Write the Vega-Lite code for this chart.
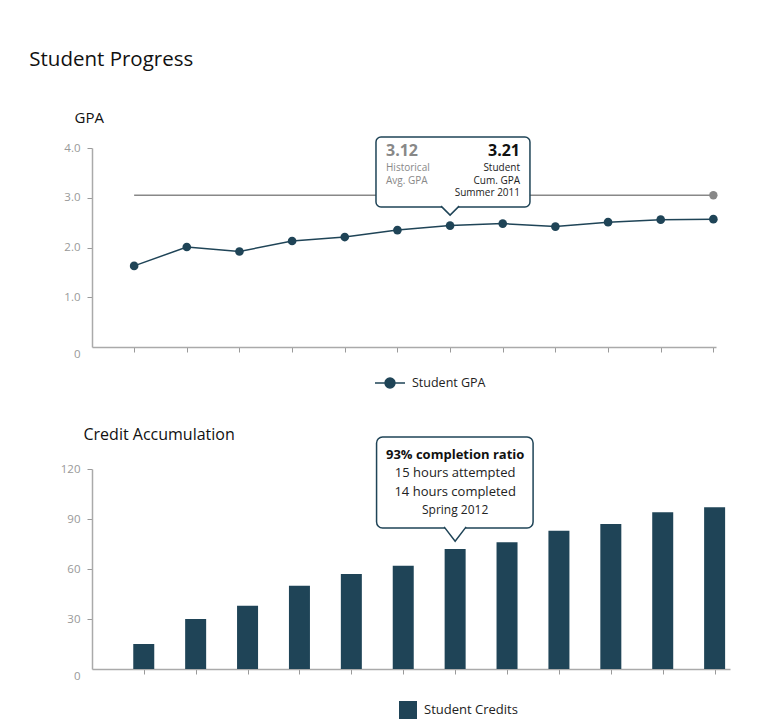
{
  "$schema": "https://vega.github.io/schema/vega-lite/v6.json",
  "padding": {"left": 29, "top": 49, "right": 10, "bottom": 0},
  "background": "white",
  "title": {"text": "Student Progress", "anchor": "start", "fontSize": 20.5, "font": "Open Sans", "fontWeight": "normal", "color": "#111111", "dx": -31, "offset": 40},
  "config": {
    "font": "Open Sans",
    "view": {"stroke": null},
    "axis": {"grid": false, "domainColor": "#aaaaaa", "domainWidth": 1.5, "tickColor": "#9a9a9a", "tickWidth": 1, "tickSize": 5, "labelColor": "#999999", "labelFontSize": 11.5, "labelPadding": 7, "labelFont": "Open Sans"},
    "legend": {"labelFontSize": 12.5, "labelColor": "#222222", "labelFont": "Open Sans", "padding": 0}
  },
  "resolve": {"scale": {"x": "independent", "y": "independent", "color": "independent"}, "legend": {"color": "independent"}},
  "spacing": 35,
  "vconcat": [
    {
      "width": 624,
      "height": 199,
      "layer": [
        {
          "data": {"values": [{"t": 1, "hist": 3.05}, {"t": 12, "hist": 3.05}]},
          "mark": {"type": "line", "color": "#888888", "strokeWidth": 1.5},
          "encoding": {
            "x": {"field": "t", "type": "quantitative", "scale": {"domain": [0.2, 12.05], "nice": false, "zero": false},
                  "axis": {"title": null, "values": [1,2,3,4,5,6,7,8,9,10,11,12], "labels": false}},
            "y": {"field": "hist", "type": "quantitative", "scale": {"domain": [0, 4], "nice": false},
                  "axis": {"title": "GPA", "values": [0, 1, 2, 3, 4], "labelExpr": "datum.value == 0 ? '0' : format(datum.value, '.1f')",
                           "tickOpacity": {"condition": {"test": "datum.value == 0", "value": 0}, "value": 1},
                           "labelOffset": {"condition": {"test": "datum.value == 0", "value": 7}, "value": 0},
                           "titleAngle": 0, "titleAlign": "left", "titleBaseline": "alphabetic", "titleX": -18, "titleY": -26,
                           "titleFontSize": 15, "titleFontWeight": "normal", "titleColor": "#111111", "titleFont": "Open Sans"}}
          }
        },
        {
          "data": {"values": [{"t": 12, "hist": 3.05}]},
          "mark": {"type": "point", "filled": true, "color": "#888888", "size": 70, "opacity": 1},
          "encoding": {"x": {"field": "t", "type": "quantitative"}, "y": {"field": "hist", "type": "quantitative"}}
        },
        {
          "data": {"values": [
            {"t": 1, "gpa": 1.63}, {"t": 2, "gpa": 2.01}, {"t": 3, "gpa": 1.92}, {"t": 4, "gpa": 2.13},
            {"t": 5, "gpa": 2.21}, {"t": 6, "gpa": 2.35}, {"t": 7, "gpa": 2.44}, {"t": 8, "gpa": 2.48},
            {"t": 9, "gpa": 2.42}, {"t": 10, "gpa": 2.51}, {"t": 11, "gpa": 2.56}, {"t": 12, "gpa": 2.57}
          ]},
          "mark": {"type": "line", "strokeWidth": 1.5, "point": {"filled": true, "size": 75, "opacity": 1}},
          "encoding": {
            "x": {"field": "t", "type": "quantitative"},
            "y": {"field": "gpa", "type": "quantitative"},
            "color": {"datum": "Student GPA", "scale": {"range": ["#1f4457"]},
                      "legend": {"title": null, "orient": "none", "legendX": 282, "legendY": 219, "labelOffset": 6,
                                 "symbolType": "M -1 0 L 1 0 M -0.33 0 A 0.33 0.33 0 1 1 0.33 0 A 0.33 0.33 0 1 1 -0.33 0 Z",
                                 "symbolSize": 900, "symbolStrokeWidth": 1.5,
                                 "encode": {"symbols": {"update": {"fill": {"value": "#1f4457"}, "stroke": {"value": "#1f4457"}, "opacity": {"value": 1}}}}}}
          }
        },
        {
          "data": {"values": [{}]},
          "mark": {"type": "rect", "fill": "white", "stroke": "#1f4457", "strokeWidth": 1.5, "cornerRadius": 5},
          "encoding": {"x": {"datum": 5.593}, "x2": {"datum": 8.517}, "y": {"datum": 4.221}, "y2": {"datum": 2.814}}
        },
        {
          "data": {"values": [{}]},
          "mark": {"type": "point", "shape": "M -1 -0.1 L 0 0.9 L 1 -0.1", "size": 324, "fill": "white", "stroke": "#1f4457", "strokeWidth": 1.5, "opacity": 1, "fillOpacity": 1},
          "encoding": {"x": {"datum": 7}, "y": {"datum": 2.814}}
        },
        {
          "data": {"values": [{}]},
          "mark": {"type": "text", "text": "3.12", "align": "left", "baseline": "alphabetic", "fontSize": 16, "fontWeight": "bold", "color": "#888888"},
          "encoding": {"x": {"datum": 5.783}, "y": {"datum": 3.83}}
        },
        {
          "data": {"values": [{}]},
          "mark": {"type": "text", "text": ["Historical", "Avg. GPA"], "align": "left", "baseline": "alphabetic", "fontSize": 10, "lineHeight": 12.5, "color": "#888888"},
          "encoding": {"x": {"datum": 5.783}, "y": {"datum": 3.53}}
        },
        {
          "data": {"values": [{}]},
          "mark": {"type": "text", "text": "3.21", "align": "right", "baseline": "alphabetic", "fontSize": 16, "fontWeight": "bold", "color": "#111111"},
          "encoding": {"x": {"datum": 8.328}, "y": {"datum": 3.83}}
        },
        {
          "data": {"values": [{}]},
          "mark": {"type": "text", "text": ["Student", "Cum. GPA", "Summer 2011"], "align": "right", "baseline": "alphabetic", "fontSize": 10, "lineHeight": 12.5, "color": "#222222"},
          "encoding": {"x": {"datum": 8.328}, "y": {"datum": 3.53}}
        }
      ]
    },
    {
      "width": 638,
      "height": 200,
      "layer": [
        {
          "data": {"values": [
            {"t": 1, "credits": 15}, {"t": 2, "credits": 30}, {"t": 3, "credits": 38}, {"t": 4, "credits": 50},
            {"t": 5, "credits": 57}, {"t": 6, "credits": 62}, {"t": 7, "credits": 72}, {"t": 8, "credits": 76},
            {"t": 9, "credits": 83}, {"t": 10, "credits": 87}, {"t": 11, "credits": 94}, {"t": 12, "credits": 97}
          ]},
          "mark": {"type": "bar", "width": 21},
          "encoding": {
            "x": {"field": "t", "type": "quantitative", "scale": {"domain": [0.099, 12.2], "nice": false, "zero": false},
                  "axis": {"title": null, "values": [1,2,3,4,5,6,7,8,9,10,11,12], "labels": false}},
            "y": {"field": "credits", "type": "quantitative", "scale": {"domain": [0, 120], "nice": false},
                  "axis": {"title": "Credit Accumulation", "values": [0, 30, 60, 90, 120],
                           "tickOpacity": {"condition": {"test": "datum.value == 0", "value": 0}, "value": 1},
                           "labelOffset": {"condition": {"test": "datum.value == 0", "value": 7}, "value": 0},
                           "titleAngle": 0, "titleAlign": "left", "titleBaseline": "alphabetic", "titleX": -9, "titleY": -30,
                           "titleFontSize": 16, "titleFontWeight": "normal", "titleColor": "#111111", "titleFont": "Open Sans"}},
            "color": {"datum": "Student Credits", "scale": {"range": ["#1f4457"]},
                      "legend": {"title": null, "orient": "none", "legendX": 307, "legendY": 232, "labelOffset": 7,
                                 "symbolType": "square", "symbolSize": 324, "symbolStrokeWidth": 0,
                                 "labelFontSize": 13}}
          }
        },
        {
          "data": {"values": [{}]},
          "mark": {"type": "rect", "fill": "white", "stroke": "#1f4457", "strokeWidth": 1.5, "cornerRadius": 6},
          "encoding": {"x": {"datum": 5.486}, "x2": {"datum": 8.502}, "y": {"datum": 139.2}, "y2": {"datum": 84.6}}
        },
        {
          "data": {"values": [{}]},
          "mark": {"type": "point", "shape": "M -1 -0.1 L 0 1.2 L 1 -0.1", "size": 484, "fill": "white", "stroke": "#1f4457", "strokeWidth": 1.5, "opacity": 1, "fillOpacity": 1},
          "encoding": {"x": {"datum": 7}, "y": {"datum": 84.6}}
        },
        {
          "data": {"values": [{}]},
          "mark": {"type": "text", "text": "93% completion ratio", "align": "center", "baseline": "alphabetic", "fontSize": 13, "fontWeight": "bold", "color": "#111111"},
          "encoding": {"x": {"datum": 7}, "y": {"datum": 126}}
        },
        {
          "data": {"values": [{}]},
          "mark": {"type": "text", "text": ["15 hours attempted", "14 hours completed"], "align": "center", "baseline": "alphabetic", "fontSize": 13, "lineHeight": 19, "color": "#222222"},
          "encoding": {"x": {"datum": 7}, "y": {"datum": 115.2}}
        },
        {
          "data": {"values": [{}]},
          "mark": {"type": "text", "text": "Spring 2012", "align": "center", "baseline": "alphabetic", "fontSize": 12, "color": "#222222"},
          "encoding": {"x": {"datum": 7}, "y": {"datum": 93}}
        }
      ]
    }
  ]
}
